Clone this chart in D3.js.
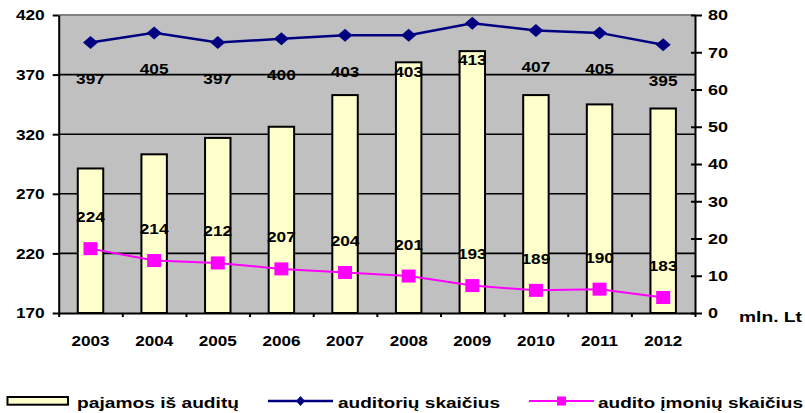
<!DOCTYPE html>
<html><head><meta charset="utf-8">
<script src="https://cdn.jsdelivr.net/npm/d3@7"></script>
<style>
html,body{margin:0;padding:0;background:#fff;}
text{font-family:"Liberation Sans",Arial,sans-serif;font-weight:bold;fill:#000;}
</style></head>
<body><svg id="c" width="805" height="413"></svg>
<script>
const years = ["2003","2004","2005","2006","2007","2008","2009","2010","2011","2012"];
const pajamos = [38.8, 42.6, 47.0, 50.0, 58.5, 67.3, 70.3, 58.5, 56.0, 54.9];
const auditoriai = [397, 405, 397, 400, 403, 403, 413, 407, 405, 395];
const imones = [224, 214, 212, 207, 204, 201, 193, 189, 190, 183];
const leftTicks = [170, 220, 270, 320, 370, 420];
const rightTicks = [0, 10, 20, 30, 40, 50, 60, 70, 80];
const legendLabels = ["pajamos iš auditų", "auditorių skaičius", "audito įmonių skaičius"];

const svg = d3.select("#c");
const L = 58.7, R = 695, T = 15, B = 313;
const x = d3.scaleBand().domain(years).range([L, R]);
const xi = d3.scaleLinear().domain([0, years.length]).range([L, R]);
const yL = d3.scaleLinear().domain([170, 420]).range([B, T]);
const yR = d3.scaleLinear().domain([0, 80]).range([B, T]);

function stretch(sel, k) {
  sel.each(function() {
    const w = this.getComputedTextLength();
    d3.select(this).attr("textLength", w * k).attr("lengthAdjust", "spacingAndGlyphs");
  });
}
function fitTo(sel, w) {
  sel.attr("textLength", w).attr("lengthAdjust", "spacingAndGlyphs");
}

// plot background
svg.append("rect").attr("x", L).attr("y", T).attr("width", R - L).attr("height", B - T).attr("fill", "#C0C0C0");
// gridlines
svg.append("g").selectAll("line").data(leftTicks.filter(d => d > 170 && d < 420)).join("line")
  .attr("x1", L).attr("x2", R).attr("y1", d => yL(d)).attr("y2", d => yL(d))
  .attr("stroke", "#000").attr("stroke-width", 1.6);
// top border
svg.append("line").attr("x1", L).attr("x2", R).attr("y1", T).attr("y2", T).attr("stroke", "#808080").attr("stroke-width", 2);

// bars
const bw = x.bandwidth() * 0.4;
svg.append("g").selectAll("rect").data(years).join("rect")
  .attr("x", (d) => x(d) + x.bandwidth() / 2 - bw / 2)
  .attr("width", bw)
  .attr("y", (d, i) => yR(pajamos[i]))
  .attr("height", (d, i) => B - yR(pajamos[i]))
  .attr("fill", "#FFFFCC").attr("stroke", "#000").attr("stroke-width", 2);

const cx = d => x(d) + x.bandwidth() / 2;

// auditoriai line
svg.append("path").datum(years)
  .attr("d", d3.line().x(d => cx(d)).y((d, i) => yL(auditoriai[i])))
  .attr("fill", "none").attr("stroke", "#000080").attr("stroke-width", 2.5);
svg.append("g").selectAll("path").data(years).join("path")
  .attr("d", "M0,-6.5L7.5,0L0,6.5L-7.5,0Z")
  .attr("transform", (d, i) => `translate(${cx(d)},${yL(auditoriai[i])})`)
  .attr("fill", "#000080");

// imones line
svg.append("path").datum(years)
  .attr("d", d3.line().x(d => cx(d)).y((d, i) => yL(imones[i])))
  .attr("fill", "none").attr("stroke", "#FF00FF").attr("stroke-width", 2);
svg.append("g").selectAll("rect").data(years).join("rect")
  .attr("x", d => cx(d) - 7).attr("y", (d, i) => yL(imones[i]) - 6.5)
  .attr("width", 14).attr("height", 13).attr("fill", "#FF00FF");

// data labels
svg.append("g").selectAll("text").data(years).join("text")
  .attr("x", d => cx(d)).attr("y", (d, i) => yL(auditoriai[i]) + 41.5)
  .attr("text-anchor", "middle").attr("font-size", 15)
  .text((d, i) => auditoriai[i]).call(stretch, 1.15);
svg.append("g").selectAll("text").data(years).join("text")
  .attr("x", d => cx(d)).attr("y", (d, i) => yL(imones[i]) - 26.5)
  .attr("text-anchor", "middle").attr("font-size", 15)
  .text((d, i) => imones[i]).call(stretch, 1.15);

// left axis
const gl = svg.append("g").attr("transform", `translate(${L},0)`)
  .call(d3.axisLeft(yL).tickValues(leftTicks).tickSize(6).tickSizeOuter(0).tickPadding(8));
gl.select(".domain").attr("stroke", "#000").attr("stroke-width", 2);
gl.selectAll(".tick line").attr("stroke", "#000").attr("stroke-width", 2);
gl.selectAll("text").attr("font-size", 15).attr("font-family", null).call(stretch, 1.15);

// right axis
const gr = svg.append("g").attr("transform", `translate(${R},0)`)
  .call(d3.axisRight(yR).tickValues(rightTicks).tickSize(7).tickSizeOuter(0).tickPadding(6));
gr.select(".domain").attr("stroke", "#000").attr("stroke-width", 2);
gr.selectAll(".tick line").attr("x1", -4).attr("stroke", "#000").attr("stroke-width", 2);
gr.selectAll("text").attr("font-size", 15).attr("font-family", null).call(stretch, 1.2);

// bottom axis: boundary ticks
const gb = svg.append("g").attr("transform", `translate(0,${B})`)
  .call(d3.axisBottom(xi).tickValues(d3.range(years.length + 1)).tickFormat("").tickSize(4).tickSizeOuter(0));
gb.select(".domain").attr("stroke", "#000").attr("stroke-width", 2);
gb.selectAll(".tick line").attr("stroke", "#000").attr("stroke-width", 2);
// bottom labels
const gx = svg.append("g").attr("transform", `translate(0,${B})`)
  .call(d3.axisBottom(x).tickSize(0).tickPadding(22));
gx.select(".domain").remove();
gx.selectAll("text").attr("font-size", 15).attr("font-family", null).call(stretch, 1.14);

// unit label
svg.append("text").attr("x", 739).attr("y", 322).attr("font-size", 15).text("mln. Lt").call(fitTo, 63);

// legend
const ly = 401;
svg.append("rect").attr("x", 7.5).attr("y", 397).attr("width", 60.5).attr("height", 7.7)
  .attr("fill", "#FFFFCC").attr("stroke", "#000").attr("stroke-width", 2);
svg.append("text").attr("x", 77).attr("y", 407.5).attr("font-size", 15).text(legendLabels[0]).call(fitTo, 162);

svg.append("line").attr("x1", 268).attr("x2", 333).attr("y1", ly).attr("y2", ly).attr("stroke", "#000080").attr("stroke-width", 2.5);
svg.append("path").attr("d", "M0,-5L4.5,0L0,5L-4.5,0Z").attr("transform", `translate(300.5,${ly})`).attr("fill", "#000080");
svg.append("text").attr("x", 338).attr("y", 407.5).attr("font-size", 15).text(legendLabels[1]).call(fitTo, 162);

svg.append("line").attr("x1", 529).attr("x2", 594).attr("y1", ly).attr("y2", ly).attr("stroke", "#FF00FF").attr("stroke-width", 2);
svg.append("rect").attr("x", 557).attr("y", ly - 4.5).attr("width", 9).attr("height", 9).attr("fill", "#FF00FF");
svg.append("text").attr("x", 598).attr("y", 407.5).attr("font-size", 15).text(legendLabels[2]).call(fitTo, 205);
</script></body></html>
